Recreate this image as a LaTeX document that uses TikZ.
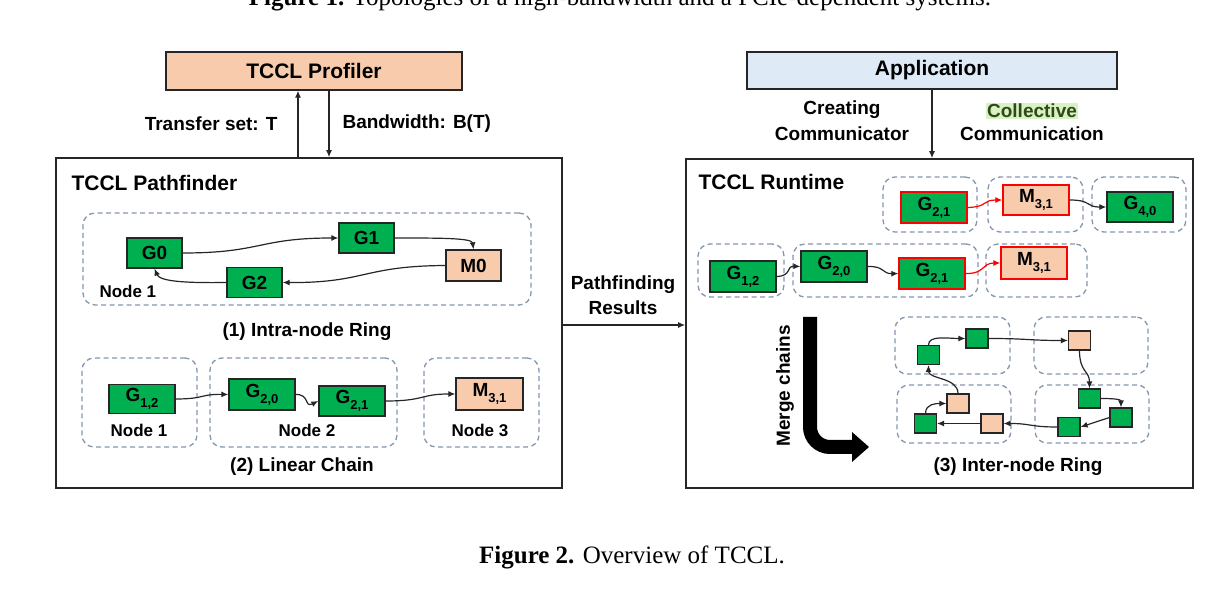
\documentclass[tikz,border=0pt]{standalone}
\usepackage{fontspec}
\setmainfont{Liberation Sans}
\newfontfamily\capfont{Liberation Serif}
\usetikzlibrary{arrows.meta}
\definecolor{gfill}{HTML}{00B050}
\definecolor{pfill}{HTML}{F8CBAD}
\definecolor{bfill}{HTML}{DEEBF7}
\definecolor{dgray}{HTML}{8497B0}
\definecolor{hl}{HTML}{D9F2C4}
\definecolor{hltext}{HTML}{2F4A1A}
\definecolor{edge}{HTML}{262626}
\newcommand\sbx[1]{\raisebox{-0.32em}{\fontsize{13}{13}\selectfont #1}}
\begin{document}
\begin{tikzpicture}[x=1pt,y=-1pt,
  every node/.style={font=\fontsize{19}{22}\selectfont\bfseries},
  sz/.style 2 args={minimum width=#1, minimum height=#2},
  box/.style={draw=edge, line width=1.3pt, inner sep=0pt, anchor=center},
  gbox/.style={box, fill=gfill},
  pbox/.style={box, fill=pfill},
  redb/.style={draw=red},
  grp/.style={draw=dgray, dash pattern=on 5pt off 3.5pt, line width=1.3pt, rounded corners=12pt, inner sep=0pt},
  bigbox/.style={draw=edge, line width=1.6pt, inner sep=0pt},
  conn/.style={line width=1.2pt, draw=edge, -{Latex[length=7pt,width=6pt]}},
  rconn/.style={line width=1.2pt, draw=red, -{Latex[length=7pt,width=6pt]}},
  title/.style={font=\fontsize{21}{24}\selectfont\bfseries},
  lbl/.style={font=\fontsize{19}{22}\selectfont\bfseries},
  nlbl/.style={font=\fontsize{17}{20}\selectfont\bfseries},
  sq/.style={sz={22}{19}, line width=1.1pt},
]
\useasboundingbox (0,0) rectangle (1219,593);
\clip (0,0) rectangle (1219,593);

% captions
\node[font=\capfont\fontsize{25}{28}\selectfont, anchor=base] (cap1) at (620,6) {\textbf{Figure 1.} Topologies of a high-bandwidth and a PCIe-dependent systems.};
\node[font=\capfont\fontsize{25}{28}\selectfont, anchor=base] (cap2) at (632,563) {\textbf{Figure 2.} Overview of TCCL.};

% ---------------- left side
\node[pbox, sz={296}{38}, title] (prof) at (314,71) {TCCL Profiler};
\node[bigbox, sz={506}{330}] (pf) at (309,323) {};
\node[title, anchor=west] (pft) at (68,183) {TCCL Pathfinder};
\coordinate (ua) at (298,0);
\coordinate (da) at (329,0);
\draw[conn] (pf.north -| ua) -- (prof.south -| ua);
\draw[conn] (prof.south -| da) -- (pf.north -| da);
\node[lbl, anchor=east] (tset) at (281,124) {Transfer set: T};
\node[lbl, anchor=west] (bw) at (339,124) {Bandwidth: B(T)};

% intra-node ring
\node[grp, sz={448}{92}] (n1) at (307,259) {};
\node[gbox, sz={55}{30}] (g0) at (154.5,253) {G0};
\node[gbox, sz={55}{30}] (g1) at (366.5,238) {G1};
\node[pbox, sz={55}{31}] (m0) at (473.5,265.5) {M0};
\node[gbox, sz={55}{30}] (g2) at (254.5,282.5) {G2};
\node[nlbl, anchor=west] (n1l) at (96,291) {Node 1};
\node[lbl] (ring1) at (307,332) {(1) Intra-node Ring};
\draw[conn] (g0.east) .. controls (262,253) and (258,238) .. (g1.west);
\draw[conn] (g1.east) .. controls (440,238) and (472,238) .. (m0.north);
\draw[conn] (m0.west) .. controls (362,266) and (366,283) .. (g2.east);
\draw[conn] (g2.west) .. controls (190,283) and (160,282) .. (g0.south);

% linear chain
\node[grp, sz={115}{89}] (lc1) at (139.5,402.5) {};
\node[grp, sz={187}{89}] (lc2) at (303.5,402.5) {};
\node[grp, sz={115}{89}] (lc3) at (481.5,402.5) {};
\node[gbox, sz={66}{29}] (lg12) at (142,399) {G\sbx{1,2}};
\node[gbox, sz={66}{31}] (lg20) at (262,394.5) {G\sbx{2,0}};
\node[gbox, sz={66}{30}] (lg21) at (352,401) {G\sbx{2,1}};
\node[pbox, sz={67}{32}] (lm31) at (489.5,394) {M\sbx{3,1}};
\node[nlbl] (lc1l) at (139,430) {Node 1};
\node[nlbl] (lc2l) at (307,430) {Node 2};
\node[nlbl] (lc3l) at (480,430) {Node 3};
\node[lbl] (chain) at (302,467) {(2) Linear Chain};
\draw[conn] (lg12.east) .. controls (205,399) and (200,394) .. (lg20.west);
\draw[conn] (lg20.east) .. controls (310,394) and (304,408) .. (lg21.west);
\draw[conn] (lg21.east) .. controls (425,401) and (420,394) .. (lm31.west);

% middle
\node[lbl] (pr1) at (623,285) {Pathfinding};
\node[lbl] (pr2) at (623,308) {Results};
\coordinate (mid) at (0,325);

% ---------------- right side
\node[box, fill=bfill, sz={370}{37}, title] (app) at (932,70.5) {Application};
\node[bigbox, sz={507}{329}] (rt) at (939.5,323.5) {};
\node[title, anchor=west] (rtt) at (695,182) {TCCL Runtime};
\draw[conn] (app.south) -- (rt.north -| app.south);
\draw[conn] (pf.east |- mid) -- (rt.west |- mid);
\node[lbl] (cc1) at (842,110) {Creating};
\node[lbl] (cc2) at (842,134) {Communicator};
\node[lbl, fill=hl, text=hltext, inner sep=1.5pt] (co1) at (1032,111) {Collective};
\node[lbl] (co2) at (1032,134) {Communication};

% row 1
\node[grp, sz={94}{55}] (r1a) at (930,204.5) {};
\node[grp, sz={95}{55}] (r1b) at (1035.5,204.5) {};
\node[grp, sz={94}{55}] (r1c) at (1139,204.5) {};
\node[gbox, redb, sz={66}{31}] (rg21) at (934,207.5) {G\sbx{2,1}};
\node[pbox, redb, sz={66}{30}] (rm31) at (1036,200) {M\sbx{3,1}};
\node[gbox, sz={66}{30}] (rg40) at (1140,207) {G\sbx{4,0}};
\draw[rconn] (rg21.east) .. controls (988,207) and (982,200) .. (rm31.west);
\draw[conn] (rm31.east) .. controls (1092,200) and (1085,207) .. (rg40.west);

% row 2
\node[grp, sz={86}{53}] (r2a) at (741,270.5) {};
\node[grp, sz={185}{53}] (r2b) at (885.5,270.5) {};
\node[grp, sz={101}{53}] (r2c) at (1036.5,270.5) {};
\node[gbox, sz={66}{31}] (sg12) at (743,276.5) {G\sbx{1,2}};
\node[gbox, sz={66}{31}] (sg20) at (834,266.5) {G\sbx{2,0}};
\node[gbox, redb, sz={66}{31}] (sg21) at (932,273.5) {G\sbx{2,1}};
\node[pbox, redb, sz={66}{32}] (sm31) at (1034,263) {M\sbx{3,1}};
\draw[conn] (sg12.east) .. controls (792,276) and (786,266) .. (sg20.west);
\draw[conn] (sg20.east) .. controls (885,266) and (882,274) .. (sg21.west);
\draw[rconn] (sg21.east) .. controls (985,274) and (982,263) .. (sm31.west);

% merge chains
\node[lbl, rotate=90] (mc) at (785,386) {Merge chains};
\coordinate (ms) at (810,317);
\coordinate (me) at (853,447);
\draw[line width=14pt, rounded corners=20pt] (ms) |- (me);
\fill (852,432) -- (869,447) -- (852,462) -- cycle;

% inter-node ring
\node[grp, sz={115}{57}] (ia) at (952.5,345.5) {};
\node[grp, sz={114}{57}] (ib) at (1091,345.5) {};
\node[grp, sz={114}{58}] (ic) at (954,414) {};
\node[grp, sz={114}{58}] (id) at (1092,414) {};
\node[gbox, sq] (ta) at (928.5,355) {};
\node[gbox, sq] (tb) at (977,338.5) {};
\node[pbox, sq] (tp) at (1079.5,340.5) {};
\node[gbox, sq] (ra) at (1089.5,398.5) {};
\node[gbox, sq] (rb) at (1121,417.5) {};
\node[gbox, sq] (rc) at (1069,427) {};
\node[pbox, sq] (bc) at (992,423.5) {};
\node[gbox, sq] (ba) at (925.5,423.5) {};
\node[pbox, sq] (bb) at (958,403.5) {};
\draw[conn] (ta.north) .. controls +(0,-10) and +(-18,0) .. (tb.west);
\draw[conn] (tb.east) .. controls +(40,0) and +(-40,0) .. (tp.west);
\draw[conn] (tp.south) .. controls +(0,22) and +(0,-18) .. (ra.north);
\draw[conn] (ra.east) .. controls +(14,0) and +(0,-8) .. (rb.north);
\draw[conn] (rb.west) -- (rc.east);
\draw[conn] (rc.west) .. controls +(-28,0) and +(28,0) .. (bc.east);
\draw[conn] (bc.west) -- (ba.east);
\draw[conn] (ba.north) .. controls +(0,-10) and +(-10,0) .. (bb.west);
\draw[conn] (bb.north) .. controls +(0,-16) and +(0,14) .. (ta.south);
\node[lbl] (ring3) at (1018,467) {(3) Inter-node Ring};
\end{tikzpicture}
\end{document}
